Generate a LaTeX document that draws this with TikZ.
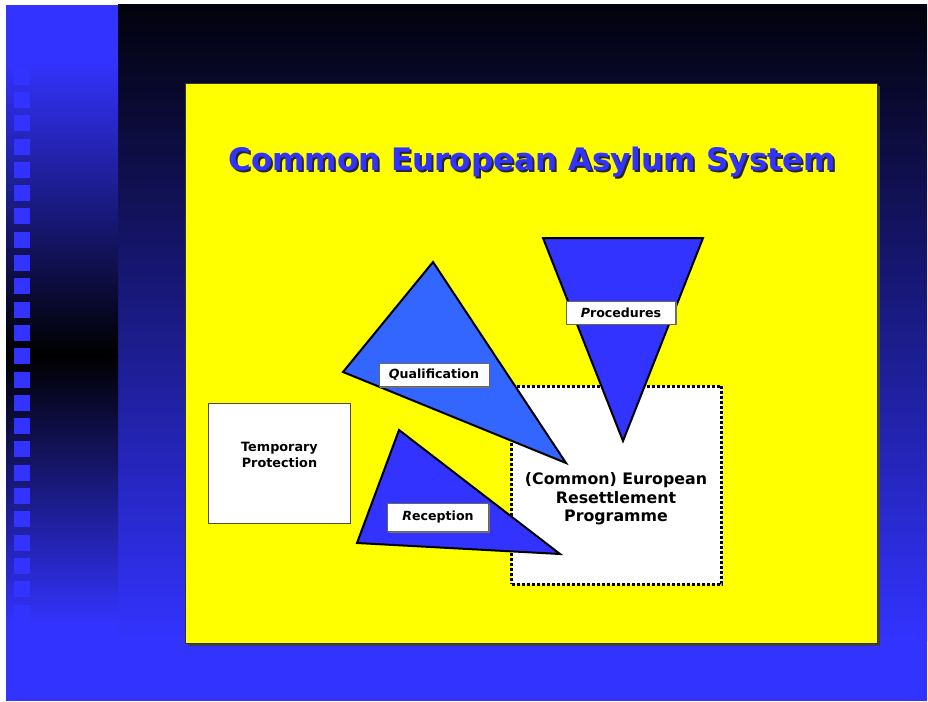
\documentclass[tikz,border=0pt]{standalone}
\usepackage{fontspec}
\setmainfont{DejaVu Sans}
\usepackage{tikz}
\usetikzlibrary{calc}
\usetikzlibrary{positioning}
\usetikzlibrary{shadows}
\tikzset{>=latex}
\definecolor{ceasblue}{HTML}{3333FF}
\definecolor{qualblue}{HTML}{3366FF}
\definecolor{ceasyellow}{HTML}{FFFF00}
\definecolor{nightblue}{HTML}{02020C}
\newcommand{\shadowtext}[1]{\rlap{\kern2pt\raisebox{-2pt}{\color{black!85}#1}}#1}
\tikzstyle{tri} = [draw = black, line width = 2pt, line join = miter, fill = ceasblue]
\tikzstyle{lbl} = [draw = black!60, fill = white, inner sep = 0pt, minimum height = 23pt, font = \fontsize{12.6}{14}\selectfont\bfseries, drop shadow = {shadow xshift = 1.2pt, shadow yshift = -1.2pt, fill = black!55, opacity = 1}]
\tikzstyle{boxtxt} = [align = center, inner sep = 0pt, font = \bfseries]

\begin{document}
\begin{tikzpicture}[x = 1pt, y = -1pt]
\useasboundingbox (0, 0) rectangle (928, 701);
\fill [white] (0, 0) rectangle (928, 701);
\shade [top color = nightblue, bottom color = ceasblue] (118, 5) rectangle (927, 640);
\fill [ceasblue] (118, 639.5) rectangle (927, 701);
\fill [ceasblue] (6, 5) rectangle (118, 60);
\shade [top color = ceasblue, bottom color = black] (6, 60) rectangle (118, 355);
\shade [top color = black, bottom color = ceasblue] (6, 354.5) rectangle (118, 625);
\fill [ceasblue] (6, 624.5) rectangle (118, 701);
\foreach \i in {0,...,28}
  \fill [ceasblue] (14, 22 + 23.3 * \i) rectangle ++(16, 16);
\fill [black!75] (187.5, 85.5) rectangle (879.5, 645.5);
\draw [draw = black!80, line width = 1pt, fill = ceasyellow] (185.5, 83.5) rectangle (877.5, 643);
\node [anchor = base, text = ceasblue, font = \fontsize{31}{36}\selectfont\bfseries] (title) at (532, 170) {\shadowtext{Common European Asylum System}};
\node [draw = black!70, fill = white, minimum width = 142pt, minimum height = 120pt] (tpbox) at (279.5, 462.7) {};
\node [boxtxt, font = \fontsize{12.8}{15.5}\selectfont\bfseries] (tptext) at ($(tpbox.center) + (0, -8)$) {Temporary\\Protection};
\node [draw = black, fill = white, line width = 3pt, dash pattern = on 3pt off 2pt, minimum width = 210pt, minimum height = 198pt] (resbox) at (616.6, 485) {};
\node [boxtxt, font = \fontsize{15.8}{18.7}\selectfont\bfseries] (restext) at (616, 499) {(Common) European\\Resettlement\\Programme};
\coordinate (Q1) at (433, 262);
\coordinate (Q2) at (343, 372);
\coordinate (Q3) at (566, 463);
\draw [tri, fill = qualblue] (Q1) -- (Q2) -- (Q3) -- cycle;
\coordinate (P1) at (543, 238);
\coordinate (P2) at (703, 238);
\coordinate (P3) at (623, 441);
\draw [tri] (P1) -- (P2) -- (P3) -- cycle;
\coordinate (R1) at (399, 430);
\coordinate (R2) at (357, 543);
\coordinate (R3) at (560, 554);
\draw [tri] (R1) -- (R2) -- (R3) -- cycle;
\node [lbl, minimum width = 109pt] (proc) at (621, 312.5) {\textit{P}rocedures};
\node [lbl, minimum width = 110pt] (qual) at (434, 375) {\textit{Q}ualification};
\node [lbl, minimum width = 101pt, minimum height = 28pt] (recep) at (438, 517.5) {\textit{R}eception};
\end{tikzpicture}
\end{document}
